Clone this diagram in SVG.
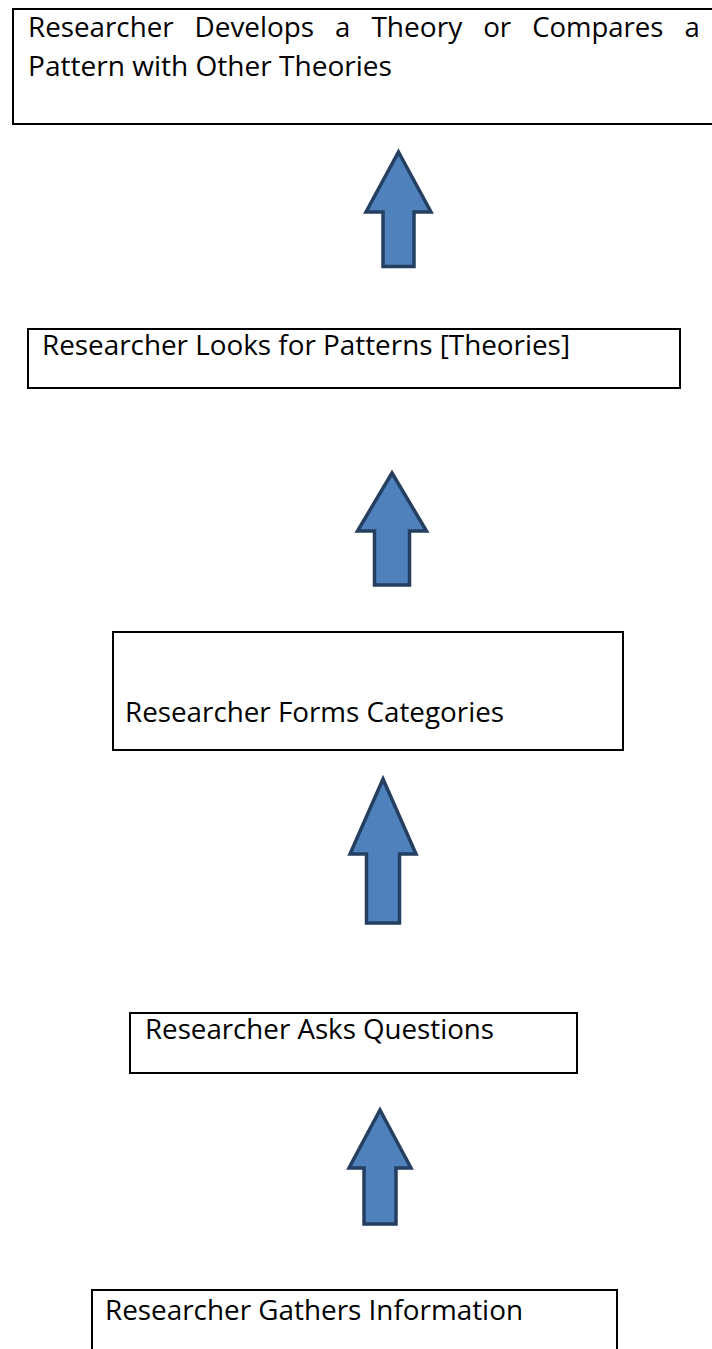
<svg xmlns="http://www.w3.org/2000/svg" width="712" height="1349" viewBox="0 0 712 1349">
<style>
.box{fill:#ffffff;stroke:#000000;stroke-width:2}
.t{font-family:"Open Sans","Liberation Sans",sans-serif;font-size:28px;fill:#000000}
.arrow{fill:#4F81BD;stroke:#243F60;stroke-width:3.5;stroke-linejoin:miter}
</style>
<rect x="0" y="0" width="712" height="1349" fill="#ffffff"/>
<g id="node-develops">
<rect class="box" x="13" y="9" width="710" height="115"/>
<text class="t" y="37"><tspan x="28" textLength="145.6" lengthAdjust="spacingAndGlyphs">Researcher</tspan> <tspan x="194.6" textLength="119.5" lengthAdjust="spacingAndGlyphs">Develops</tspan> <tspan x="335.1" textLength="15.3" lengthAdjust="spacingAndGlyphs">a</tspan> <tspan x="371.4" textLength="90.8" lengthAdjust="spacingAndGlyphs">Theory</tspan> <tspan x="483.2" textLength="28" lengthAdjust="spacingAndGlyphs">or</tspan> <tspan x="532.2" textLength="131.2" lengthAdjust="spacingAndGlyphs">Compares</tspan> <tspan x="684.4" textLength="15.3" lengthAdjust="spacingAndGlyphs">a</tspan></text>
<text class="t" x="28" y="76" textLength="364" lengthAdjust="spacingAndGlyphs">Pattern with Other Theories</text>
</g>
<g id="node-patterns">
<rect class="box" x="28" y="329" width="652" height="59"/>
<text class="t" x="42" y="355" textLength="528" lengthAdjust="spacingAndGlyphs">Researcher Looks for Patterns [Theories]</text>
</g>
<g id="node-categories">
<rect class="box" x="113" y="632" width="510" height="118"/>
<text class="t" x="125" y="722" textLength="379" lengthAdjust="spacingAndGlyphs">Researcher Forms Categories</text>
</g>
<g id="node-questions">
<rect class="box" x="130" y="1013" width="447" height="60"/>
<text class="t" x="145" y="1039" textLength="349" lengthAdjust="spacingAndGlyphs">Researcher Asks Questions</text>
</g>
<g id="node-gathers">
<rect class="box" x="92" y="1290" width="525" height="80"/>
<text class="t" x="105" y="1320" textLength="418" lengthAdjust="spacingAndGlyphs">Researcher Gathers Information</text>
</g>
<g id="connectors">
<polygon class="arrow" points="398.5,152 431,212 414,212 414,266.5 383,266.5 383,212 366,212"/>
<polygon class="arrow" points="392,473 426.5,531 409.5,531 409.5,585 374.5,585 374.5,531 357.5,531"/>
<polygon class="arrow" points="383,779 416,854 399.5,854 399.5,923 366.5,923 366.5,854 350,854"/>
<polygon class="arrow" points="380,1110 411,1168 396,1168 396,1224 364,1224 364,1168 349,1168"/>
</g>
</svg>
